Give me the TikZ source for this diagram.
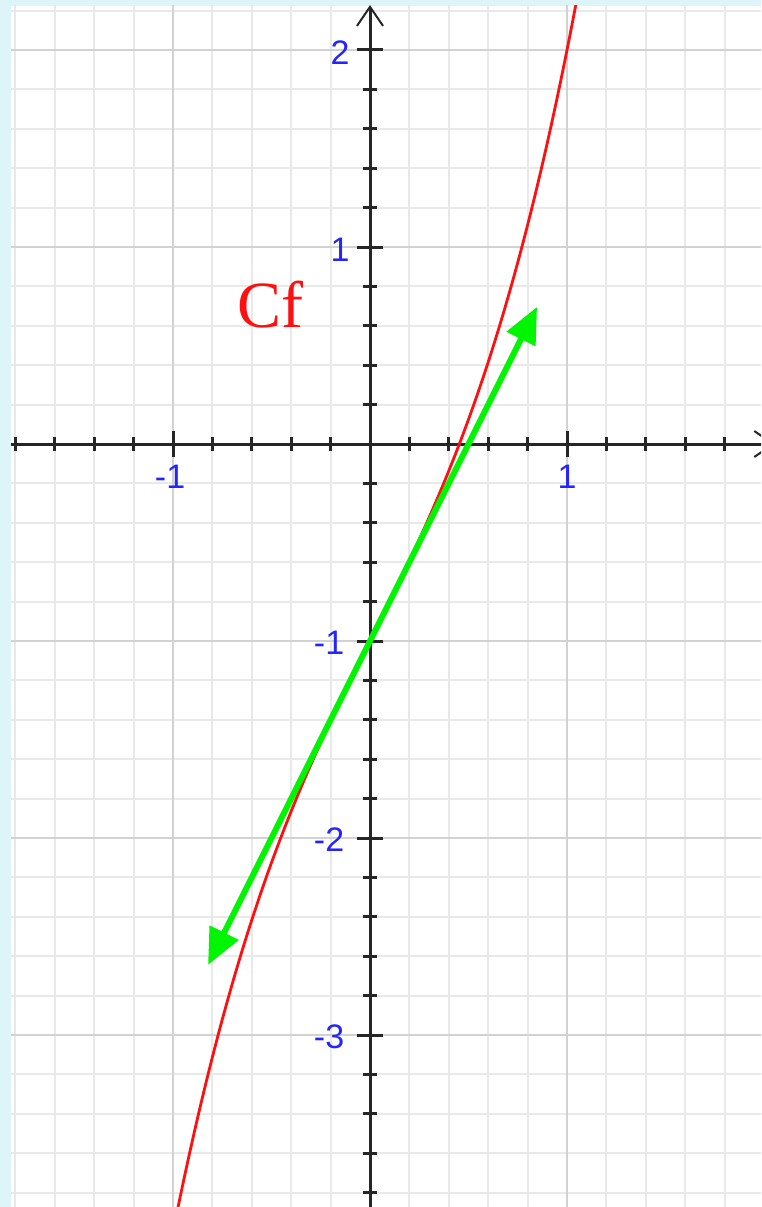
\documentclass[tikz,border=0pt]{standalone}
\usepackage{fontspec}
\setmainfont{Liberation Serif}
\newfontfamily\labfont{Liberation Sans}
\usetikzlibrary{arrows.meta}
\definecolor{bgblue}{HTML}{DDF4F8}
\definecolor{minorgrid}{HTML}{E9E9E9}
\definecolor{majorgrid}{HTML}{D2D2D2}
\definecolor{axiscol}{HTML}{262626}
\definecolor{labblue}{HTML}{2424FF}
\definecolor{tangreen}{HTML}{00F500}
\definecolor{curvered}{HTML}{FF1010}
\tikzset{
  minorline/.style={minorgrid, line width=2pt},
  majorline/.style={majorgrid, line width=2.5pt},
  axisline/.style={axiscol, line width=3pt},
  tickline/.style={axiscol, line width=3pt},
  axlabel/.style={labblue, font=\labfont\fontsize{34}{36}\selectfont, inner sep=0pt},
  curvelabel/.style={curvered, font=\fontsize{66}{70}\selectfont, inner sep=0pt},
  tangentarrow/.style={tangreen, line width=6pt, {Triangle[length=36pt,width=31pt]}-{Triangle[length=36pt,width=31pt]}}
}
\begin{document}
\begin{tikzpicture}[x=1pt,y=-1pt]
\fill[bgblue] (0,0) rectangle (761,1207);
\fill[white] (11,6) rectangle (761,1207);
\useasboundingbox (0,0) rectangle (761,1207);
\begin{scope}
\clip (11,6) rectangle (761,1207);
\begin{scope}[shift={(370,444)}, x=197pt, y=197pt]
  % minor grid
  \foreach \i in {-10,...,10} \draw[minorline] (\i/5,-4.3) -- (\i/5,2.4);
  \foreach \j in {-21,...,12} \draw[minorline] (-2.1,\j/5) -- (2.1,\j/5);
  % major grid
  \foreach \i in {-2,-1,1,2} \draw[majorline] (\i,-4.3) -- (\i,2.4);
  \foreach \j in {-4,-3,-2,-1,1,2} \draw[majorline] (-2.1,\j) -- (2.1,\j);
  % axes
  \coordinate (xs) at (-2.1,0);
  \coordinate (xe) at (2.056,0);
  \coordinate (ys) at (0,-4.3);
  \coordinate (ye) at (0,2.228);
  \draw[axisline, -{Straight Barb[length=19pt,width=26pt,line width=2pt]}] (xs) -- (xe);
  \draw[axisline, -{Straight Barb[length=19pt,width=26pt,line width=2pt]}] (ys) -- (ye);
  % ticks
  \foreach \i in {-9,...,-1,1,2,...,9} {
    \pgfmathtruncatemacro{\m}{mod(abs(\i),5)}
    \ifnum\m=0
      \draw[tickline] (\i/5,0) ++(0,-13pt) -- ++(0,26pt);
    \else
      \draw[tickline] (\i/5,0) ++(0,-7pt) -- ++(0,14pt);
    \fi
  }
  \foreach \j in {-19,...,-1,1,2,...,10} {
    \pgfmathtruncatemacro{\m}{mod(abs(\j),5)}
    \ifnum\m=0
      \draw[tickline] (0,\j/5) ++(-13pt,0) -- ++(26pt,0);
    \else
      \draw[tickline] (0,\j/5) ++(-7pt,0) -- ++(14pt,0);
    \fi
  }
  % axis labels
  \node[axlabel] (xm1) at (-1.015,-0.165) {-1};
  \node[axlabel] (xp1) at (1,-0.165) {1};
  \node[axlabel, anchor=east] (y2) at (-0.103,1.985) {2};
  \node[axlabel, anchor=east] (y1) at (-0.103,0.985) {1};
  \node[axlabel, anchor=east] (ym1) at (-0.13,-1.01) {-1};
  \node[axlabel, anchor=east] (ym2) at (-0.13,-2.01) {-2};
  \node[axlabel, anchor=east] (ym3) at (-0.13,-3.01) {-3};
  % curve
  \draw[curvered, line width=2.8pt, domain=-0.99:1.07, samples=120, smooth] plot (\x,{\x*\x*\x+2*\x-1});
  \node[curvelabel] (cf) at (-0.503,0.706) {Cf};
  % tangent
  \coordinate (t1) at (-0.822,-2.644);
  \coordinate (t2) at (0.848,0.696);
  \draw[tangentarrow] (t1) -- (t2);
\end{scope}
\end{scope}
\end{tikzpicture}
\end{document}
